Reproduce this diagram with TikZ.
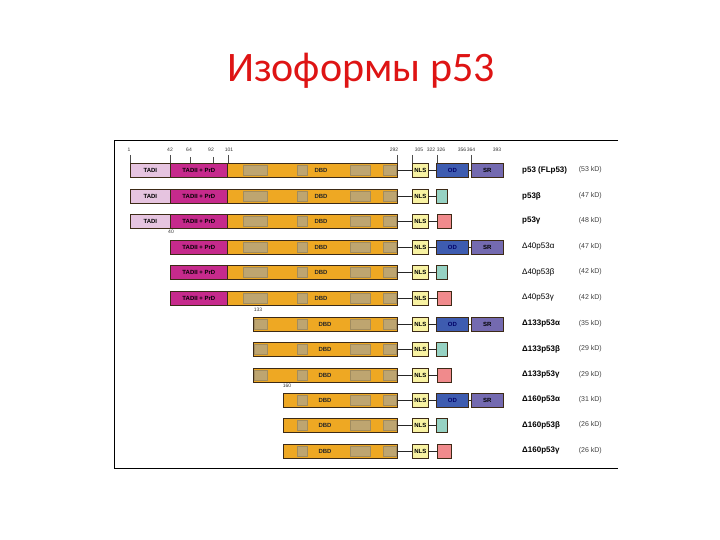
\documentclass[tikz,border=0pt]{standalone}
\usepackage{fontspec}
\setmainfont{Liberation Sans}
\newfontfamily\titlefont{Carlito}
\usepackage{tikz}
\usetikzlibrary{positioning}
\definecolor{tadone}{RGB}{230,196,224}
\definecolor{tadtwo}{RGB}{198,42,140}
\definecolor{dbdorange}{RGB}{238,168,35}
\definecolor{consgrey}{RGB}{190,165,112}
\definecolor{nlsyellow}{RGB}{248,242,162}
\definecolor{odblue}{RGB}{62,92,176}
\definecolor{srpurple}{RGB}{116,106,176}
\definecolor{betateal}{RGB}{150,210,195}
\definecolor{gammapink}{RGB}{240,138,140}
\definecolor{domline}{RGB}{60,42,22}
\definecolor{titlered}{RGB}{222,20,20}
\tikzstyle{dom}=[draw=domline,line width=.7pt,minimum height=14pt,inner sep=0pt,anchor=west,font=\fontsize{6}{7}\selectfont\bfseries]
\tikzstyle{tadi}=[dom,fill=tadone,minimum width=40pt]
\tikzstyle{tadii}=[dom,fill=tadtwo,minimum width=57pt]
\tikzstyle{dbd}=[dom,fill=dbdorange]
\tikzstyle{dbdtext}=[font=\fontsize{6}{7}\selectfont\bfseries,text=black!85]
\tikzstyle{nls}=[dom,fill=nlsyellow,minimum width=16pt]
\tikzstyle{od}=[dom,fill=odblue,minimum width=32pt,text=black!60!blue]
\tikzstyle{sr}=[dom,fill=srpurple,minimum width=32pt]
\tikzstyle{betabox}=[dom,fill=betateal,minimum width=11pt]
\tikzstyle{gammabox}=[dom,fill=gammapink,minimum width=14pt]
\tikzstyle{cons}=[fill=consgrey,draw=consgrey!85!black,line width=.3pt]
\tikzstyle{link}=[black!85,line width=.7pt]
\tikzstyle{iso}=[anchor=west,inner sep=0pt,font=\fontsize{8}{9}\selectfont\bfseries]
\tikzstyle{isolight}=[anchor=west,inner sep=0pt,font=\fontsize{8}{9}\selectfont]
\tikzstyle{kd}=[anchor=east,inner sep=0pt,font=\fontsize{7}{8}\selectfont,text=black!75]
\tikzstyle{aanum}=[font=\fontsize{5}{5}\selectfont,text=black!80,inner sep=0pt]
\tikzstyle{tick}=[black!70,line width=.4pt]

\begin{document}
\begin{tikzpicture}[x=1pt,y=-1pt]
	\useasboundingbox (0,0) rectangle (720,540);

	% title
	\node[text=titlered,font=\titlefont\fontsize{42}{46}\selectfont] (title) at (361,71) {Изоформы р53};

	% frame
	\draw[line width=1pt] (618,141) -- (114,141) -- (114,468) -- (618,468);

	% residue numbers
	\node[aanum] (n1) at (129,150) {1};
	\node[aanum] (n42) at (170,150) {42};
	\node[aanum] (n64) at (189,150) {64};
	\node[aanum] (n92) at (211,150) {92};
	\node[aanum] (n101) at (229,150) {101};
	\node[aanum] (n292) at (394,150) {292};
	\node[aanum] (n305) at (419,150) {305};
	\node[aanum] (n322) at (431,150) {322};
	\node[aanum] (n326) at (441,150) {326};
	\node[aanum] (n356) at (462,150) {356};
	\node[aanum] (n364) at (471,150) {364};
	\node[aanum] (n393) at (497,150) {393};
	\draw[tick] (130,155) -- (130,163) (170,155) -- (170,163) (190,157) -- (190,163)
	(213,157) -- (213,163) (228,155) -- (228,163) (397,155) -- (397,163)
	(412,155) -- (412,163) (437,155) -- (437,163) (471,155) -- (471,163);

	%p53
	\node[tadi] (tadi1) at (130,170) {TADI};
	\node[tadii] (tadii1) at (170,170) {TADII + PrD};
	\node[dbd,minimum width=170pt] (dbd1) at (227,170) {};
	\fill[cons] (243,165) rectangle (267,175) (297,165) rectangle (307,175)
	(350,165) rectangle (370,175) (383,165) rectangle (396,175);
	\node[dbdtext] (dt1) at (321,170) {DBD};
	\node[nls] (nls1) at (412,170) {NLS};
	\node[od] (od1) at (436,170) {OD};
	\node[sr] (sr1) at (471,170) {SR};
	\draw[link] (dbd1) -- (nls1) (nls1) -- (od1) (od1) -- (sr1);
	\node[iso] (iso1) at (522,170) {p53 (FLp53)};
	\node[kd] (kd1) at (602,170) {(53 kD)};

	%p53 beta
	\node[tadi] (tadi2) at (130,196) {TADI};
	\node[tadii] (tadii2) at (170,196) {TADII + PrD};
	\node[dbd,minimum width=170pt] (dbd2) at (227,196) {};
	\fill[cons] (243,191) rectangle (267,201) (297,191) rectangle (307,201)
	(350,191) rectangle (370,201) (383,191) rectangle (396,201);
	\node[dbdtext] (dt2) at (321,196) {DBD};
	\node[nls] (nls2) at (412,196) {NLS};
	\node[betabox] (c2) at (436,196) {};
	\draw[link] (dbd2) -- (nls2) (nls2) -- (c2);
	\node[iso] (iso2) at (522,196) {p53β};
	\node[kd] (kd2) at (602,196) {(47 kD)};

	%p53 gamma
	\node[tadi] (tadi3) at (130,221) {TADI};
	\node[tadii] (tadii3) at (170,221) {TADII + PrD};
	\node[dbd,minimum width=170pt] (dbd3) at (227,221) {};
	\fill[cons] (243,216) rectangle (267,226) (297,216) rectangle (307,226)
	(350,216) rectangle (370,226) (383,216) rectangle (396,226);
	\node[dbdtext] (dt3) at (321,221) {DBD};
	\node[nls] (nls3) at (412,221) {NLS};
	\node[gammabox] (c3) at (437,221) {};
	\draw[link] (dbd3) -- (nls3) (nls3) -- (c3);
	\node[iso] (iso3) at (522,221) {p53γ};
	\node[kd] (kd3) at (602,221) {(48 kD)};

	%delta40
	\node[aanum] (n40) at (171,232) {40};
	\node[tadii] (tadii4) at (170,247) {TADII + PrD};
	\node[dbd,minimum width=170pt] (dbd4) at (227,247) {};
	\fill[cons] (243,242) rectangle (267,252) (297,242) rectangle (307,252)
	(350,242) rectangle (370,252) (383,242) rectangle (396,252);
	\node[dbdtext] (dt4) at (321,247) {DBD};
	\node[nls] (nls4) at (412,247) {NLS};
	\node[od] (od4) at (436,247) {OD};
	\node[sr] (sr4) at (471,247) {SR};
	\draw[link] (dbd4) -- (nls4) (nls4) -- (od4) (od4) -- (sr4);
	\node[isolight] (iso4) at (522,247) {Δ40p53α};
	\node[kd] (kd4) at (602,247) {(47 kD)};

	\node[tadii] (tadii5) at (170,272) {TADII + PrD};
	\node[dbd,minimum width=170pt] (dbd5) at (227,272) {};
	\fill[cons] (243,267) rectangle (267,277) (297,267) rectangle (307,277)
	(350,267) rectangle (370,277) (383,267) rectangle (396,277);
	\node[dbdtext] (dt5) at (321,272) {DBD};
	\node[nls] (nls5) at (412,272) {NLS};
	\node[betabox] (c5) at (436,272) {};
	\draw[link] (dbd5) -- (nls5) (nls5) -- (c5);
	\node[isolight] (iso5) at (522,272) {Δ40p53β};
	\node[kd] (kd5) at (602,272) {(42 kD)};

	\node[tadii] (tadii6) at (170,298) {TADII + PrD};
	\node[dbd,minimum width=170pt] (dbd6) at (227,298) {};
	\fill[cons] (243,293) rectangle (267,303) (297,293) rectangle (307,303)
	(350,293) rectangle (370,303) (383,293) rectangle (396,303);
	\node[dbdtext] (dt6) at (321,298) {DBD};
	\node[nls] (nls6) at (412,298) {NLS};
	\node[gammabox] (c6) at (437,298) {};
	\draw[link] (dbd6) -- (nls6) (nls6) -- (c6);
	\node[isolight] (iso6) at (522,298) {Δ40p53γ};
	\node[kd] (kd6) at (602,298) {(42 kD)};

	%delta133
	\node[aanum] (n133) at (258,310) {133};
	\node[dbd,minimum width=144pt] (dbd7) at (253,324) {};
	\fill[cons] (254,319) rectangle (267,329) (297,319) rectangle (307,329)
	(350,319) rectangle (370,329) (383,319) rectangle (396,329);
	\node[dbdtext] (dt7) at (325,324) {DBD};
	\node[nls] (nls7) at (412,324) {NLS};
	\node[od] (od7) at (436,324) {OD};
	\node[sr] (sr7) at (471,324) {SR};
	\draw[link] (dbd7) -- (nls7) (nls7) -- (od7) (od7) -- (sr7);
	\node[iso] (iso7) at (522,324) {Δ133p53α};
	\node[kd] (kd7) at (602,324) {(35 kD)};

	\node[dbd,minimum width=144pt] (dbd8) at (253,349) {};
	\fill[cons] (254,344) rectangle (267,354) (297,344) rectangle (307,354)
	(350,344) rectangle (370,354) (383,344) rectangle (396,354);
	\node[dbdtext] (dt8) at (325,349) {DBD};
	\node[nls] (nls8) at (412,349) {NLS};
	\node[betabox] (c8) at (436,349) {};
	\draw[link] (dbd8) -- (nls8) (nls8) -- (c8);
	\node[iso] (iso8) at (522,349) {Δ133p53β};
	\node[kd] (kd8) at (602,349) {(29 kD)};

	\node[dbd,minimum width=144pt] (dbd9) at (253,375) {};
	\fill[cons] (254,370) rectangle (267,380) (297,370) rectangle (307,380)
	(350,370) rectangle (370,380) (383,370) rectangle (396,380);
	\node[dbdtext] (dt9) at (325,375) {DBD};
	\node[nls] (nls9) at (412,375) {NLS};
	\node[gammabox] (c9) at (437,375) {};
	\draw[link] (dbd9) -- (nls9) (nls9) -- (c9);
	\node[iso] (iso9) at (522,375) {Δ133p53γ};
	\node[kd] (kd9) at (602,375) {(29 kD)};

	%delta160
	\node[aanum] (n160) at (287,386) {160};
	\node[dbd,minimum width=114pt] (dbd10) at (283,400) {};
	\fill[cons] (297,395) rectangle (307,405)
	(350,395) rectangle (370,405) (383,395) rectangle (396,405);
	\node[dbdtext] (dt10) at (325,400) {DBD};
	\node[nls] (nls10) at (412,400) {NLS};
	\node[od] (od10) at (436,400) {OD};
	\node[sr] (sr10) at (471,400) {SR};
	\draw[link] (dbd10) -- (nls10) (nls10) -- (od10) (od10) -- (sr10);
	\node[iso] (iso10) at (522,400) {Δ160p53α};
	\node[kd] (kd10) at (602,400) {(31 kD)};

	\node[dbd,minimum width=114pt] (dbd11) at (283,425) {};
	\fill[cons] (297,420) rectangle (307,430)
	(350,420) rectangle (370,430) (383,420) rectangle (396,430);
	\node[dbdtext] (dt11) at (325,425) {DBD};
	\node[nls] (nls11) at (412,425) {NLS};
	\node[betabox] (c11) at (436,425) {};
	\draw[link] (dbd11) -- (nls11) (nls11) -- (c11);
	\node[iso] (iso11) at (522,425) {Δ160p53β};
	\node[kd] (kd11) at (602,425) {(26 kD)};

	\node[dbd,minimum width=114pt] (dbd12) at (283,451) {};
	\fill[cons] (297,446) rectangle (307,456)
	(350,446) rectangle (370,456) (383,446) rectangle (396,456);
	\node[dbdtext] (dt12) at (325,451) {DBD};
	\node[nls] (nls12) at (412,451) {NLS};
	\node[gammabox] (c12) at (437,451) {};
	\draw[link] (dbd12) -- (nls12) (nls12) -- (c12);
	\node[iso] (iso12) at (522,451) {Δ160p53γ};
	\node[kd] (kd12) at (602,451) {(26 kD)};
\end{tikzpicture}
\end{document}
